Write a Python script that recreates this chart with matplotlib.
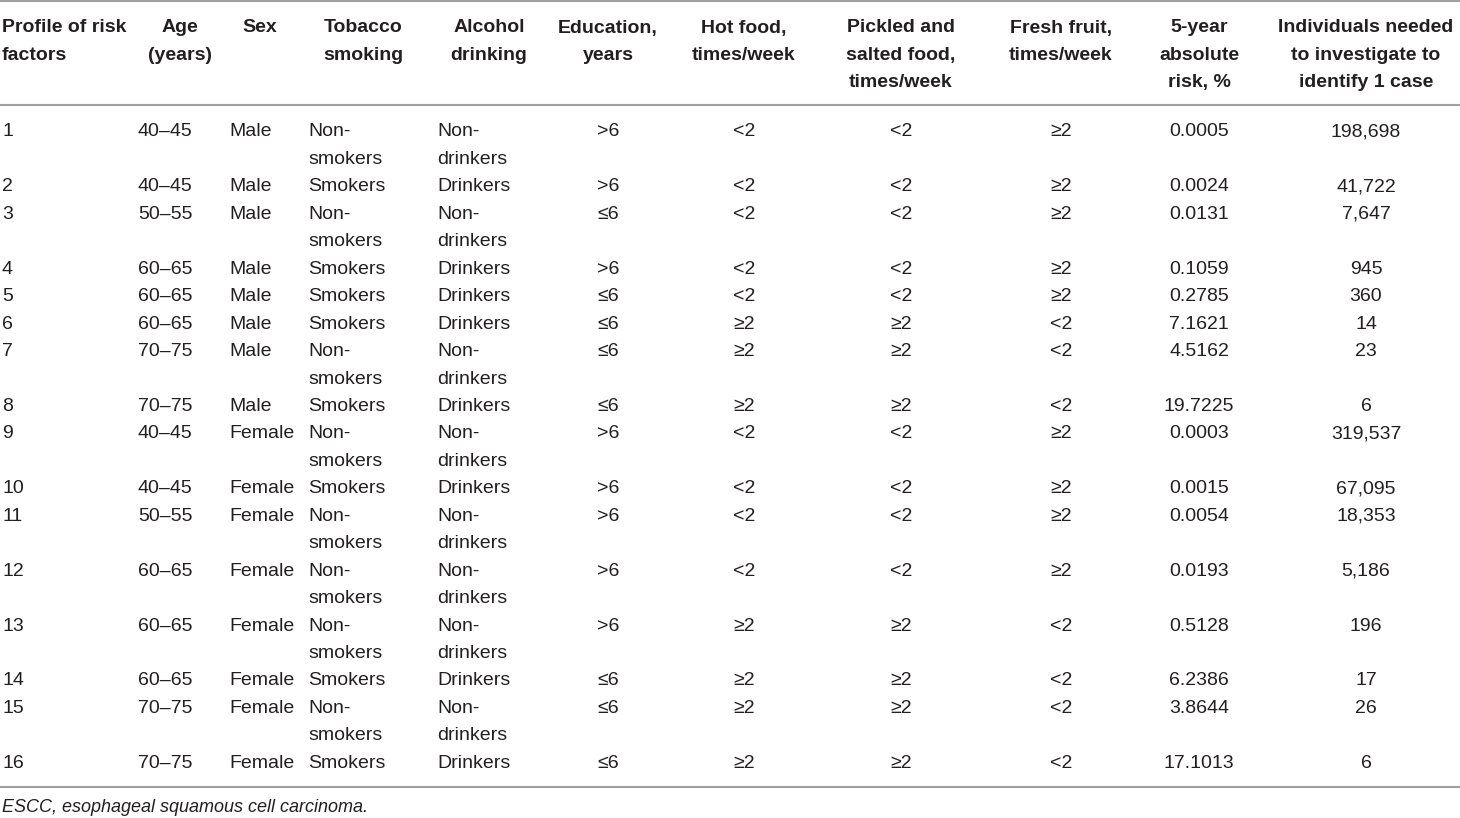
import matplotlib.pyplot as plt
from matplotlib.lines import Line2D

plt.rcParams['font.family'] = ['Liberation Sans Narrow', 'Liberation Sans', 'DejaVu Sans']

headers = ['Profile of risk\nfactors', 'Age\n(years)', 'Sex', 'Tobacco\nsmoking',
           'Alcohol\ndrinking', 'Education,\nyears', 'Hot food,\ntimes/week',
           'Pickled and\nsalted food,\ntimes/week', 'Fresh fruit,\ntimes/week',
           '5-year\nabsolute\nrisk, %', 'Individuals needed\nto investigate to\nidentify 1 case']

profile = [str(i) for i in range(1, 17)]
age = ['40–45', '40–45', '50–55', '60–65', '60–65', '60–65', '70–75', '70–75',
       '40–45', '40–45', '50–55', '60–65', '60–65', '60–65', '70–75', '70–75']
sex = ['Male'] * 8 + ['Female'] * 8
smoking = ['Non-\nsmokers', 'Smokers', 'Non-\nsmokers', 'Smokers', 'Smokers', 'Smokers',
           'Non-\nsmokers', 'Smokers', 'Non-\nsmokers', 'Smokers', 'Non-\nsmokers',
           'Non-\nsmokers', 'Non-\nsmokers', 'Smokers', 'Non-\nsmokers', 'Smokers']
drinking = [s.replace('smokers', 'drinkers').replace('Smokers', 'Drinkers') for s in smoking]
education = ['>6', '>6', '≤6', '>6', '≤6', '≤6', '≤6', '≤6',
             '>6', '>6', '>6', '>6', '>6', '≤6', '≤6', '≤6']
hot_food = ['<2'] * 5 + ['≥2'] * 3 + ['<2'] * 4 + ['≥2'] * 4
pickled = list(hot_food)
fruit = ['≥2'] * 5 + ['<2'] * 3 + ['≥2'] * 4 + ['<2'] * 4
risk = ['0.0005', '0.0024', '0.0131', '0.1059', '0.2785', '7.1621', '4.5162', '19.7225',
        '0.0003', '0.0015', '0.0054', '0.0193', '0.5128', '6.2386', '3.8644', '17.1013']
needed = ['198,698', '41,722', '7,647', '945', '360', '14', '23', '6',
          '319,537', '67,095', '18,353', '5,186', '196', '17', '26', '6']

columns = [profile, age, sex, smoking, drinking, education, hot_food, pickled, fruit, risk, needed]

W, H = 1460, 818
fig = plt.figure(figsize=(W / 100, H / 100), dpi=100)

# header centres / data anchors, in pixels
head_x = [2, 180, 260, 363, 489, 608, 744, 901, 1061, 1199, 1366]
head_ha = ['left'] + ['center'] * 10
data_x = [2, 138, 229, 308, 437, 608, 744, 901, 1061, 1199, 1366]
data_ha = ['left'] * 5 + ['center'] * 6

txt = '#231f20'
line_c = '#a0a0a0'
fs = 14
step = 27.45


def px(x, y):
    return x / W, 1 - y / H


for x, ha, h in zip(head_x, head_ha, headers):
    for k, part in enumerate(h.split('\n')):
        fig.text(*px(x, 28 + k * step), part, ha=ha, va='center', fontsize=fs,
                 fontweight='bold', color=txt)

y = 132
for r in range(len(profile)):
    nlines = 1
    for c, col in enumerate(columns):
        parts = col[r].split('\n')
        nlines = max(nlines, len(parts))
        for k, part in enumerate(parts):
            fig.text(*px(data_x[c], y + k * step), part, ha=data_ha[c], va='center',
                     fontsize=fs, color=txt)
    y += nlines * step

for yy in [1, 105, 787]:
    fig.add_artist(Line2D([0, 1], [1 - yy / H] * 2, color=line_c, lw=1.5))

fig.text(*px(2, 808), 'ESCC, esophageal squamous cell carcinoma.', ha='left', va='center',
         fontsize=13, style='italic', color=txt)

fig.savefig('out.png', dpi=100)
